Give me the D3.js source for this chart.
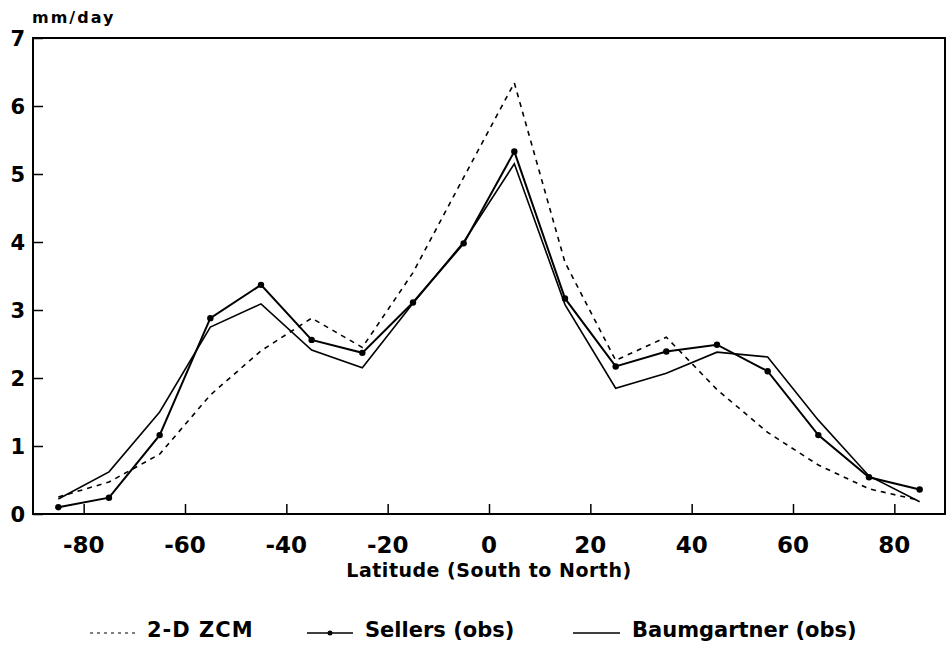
<!DOCTYPE html>
<html><head><meta charset="utf-8">
<script src="https://cdn.jsdelivr.net/npm/d3@7"></script>
<style>
body{margin:0;background:#fff;}
svg text{font-family:"DejaVu Sans",sans-serif;font-weight:bold;fill:#000;}
</style></head>
<body><svg id="c" width="947" height="653"></svg>
<script>
const latitudes = [-85,-75,-65,-55,-45,-35,-25,-15,-5,5,15,25,35,45,55,65,75,85];
const zcm2d      = [0.25,0.47,0.88,1.75,2.40,2.88,2.45,3.55,4.95,6.34,3.70,2.26,2.60,1.83,1.20,0.72,0.37,0.20];
const sellers    = [0.10,0.24,1.16,2.88,3.37,2.56,2.37,3.11,3.98,5.33,3.17,2.17,2.39,2.49,2.10,1.16,0.54,0.36];
const baumgartner= [0.22,0.62,1.50,2.75,3.09,2.41,2.15,3.10,4.00,5.15,3.08,1.85,2.07,2.38,2.31,1.38,0.56,0.18];
const xTicks = [-80,-60,-40,-20,0,20,40,60,80];
const yTicks = [0,1,2,3,4,5,6,7];
const yLabel = "mm/day";
const xLabel = "Latitude (South to North)";
const legendNames = ["2-D ZCM","Sellers (obs)","Baumgartner (obs)"];

const svg = d3.select("#c");
const L=33,R=945,T=38,B=514;
const x = d3.scaleLinear().domain([-90,90]).range([L,R]);
const y = d3.scaleLinear().domain([0,7]).range([B,T]);

// frame
svg.append("rect").attr("x",L).attr("y",T).attr("width",R-L).attr("height",B-T)
  .attr("fill","none").attr("stroke","#000").attr("stroke-width",2);

// x axis ticks (inward)
const xa = svg.append("g").attr("transform",`translate(0,${B})`)
  .call(d3.axisTop(x).tickValues(xTicks).tickSize(10).tickFormat(""));
xa.select(".domain").remove();
xa.selectAll("line").attr("stroke","#000").attr("stroke-width",1.5);
svg.append("g").selectAll("text").data(xTicks).join("text")
  .attr("x",d=>x(d)).attr("y",553).attr("text-anchor","middle")
  .attr("font-size",23).text(d=>String(d).replace("\u2212","-"));

// y axis ticks (inward)
const ya = svg.append("g").attr("transform",`translate(${L},0)`)
  .call(d3.axisRight(y).tickValues(yTicks).tickSize(10).tickFormat(""));
ya.select(".domain").remove();
ya.selectAll("line").attr("stroke","#000").attr("stroke-width",1.5);
svg.append("g").selectAll("text").data(yTicks).join("text")
  .attr("x",25).attr("y",d=>y(d)+7.5).attr("text-anchor","end")
  .attr("font-size",21).text(d=>d);

svg.append("text").attr("x",32).attr("y",23).attr("font-size",16)
  .attr("letter-spacing",2).text(yLabel);
svg.append("text").attr("x",(L+R)/2).attr("y",577).attr("text-anchor","middle")
  .attr("font-size",19).attr("letter-spacing",0.5).text(xLabel);

const line = d3.line().x((d,i)=>x(latitudes[i])).y(d=>y(d));
svg.append("path").datum(zcm2d).attr("d",line).attr("fill","none")
  .attr("stroke","#000").attr("stroke-width",1.6).attr("stroke-dasharray","5,5");
svg.append("path").datum(baumgartner).attr("d",line).attr("fill","none")
  .attr("stroke","#000").attr("stroke-width",1.6);
svg.append("path").datum(sellers).attr("d",line).attr("fill","none")
  .attr("stroke","#000").attr("stroke-width",2);
svg.append("g").selectAll("circle").data(sellers).join("circle")
  .attr("cx",(d,i)=>x(latitudes[i])).attr("cy",d=>y(d)).attr("r",3.2).attr("fill","#000");

// legend
const lg = svg.append("g");
const ly = 633;
lg.append("line").attr("x1",90).attr("x2",135).attr("y1",ly).attr("y2",ly)
  .attr("stroke","#000").attr("stroke-width",1.2).attr("stroke-dasharray","3,4");
lg.append("text").attr("x",147).attr("y",637).attr("font-size",21).attr("letter-spacing",1).text(legendNames[0]);
lg.append("line").attr("x1",307).attr("x2",353).attr("y1",ly).attr("y2",ly)
  .attr("stroke","#000").attr("stroke-width",1.6);
lg.append("circle").attr("cx",330).attr("cy",ly).attr("r",2.5).attr("fill","#000");
lg.append("text").attr("x",365).attr("y",637).attr("font-size",21).text(legendNames[1]);
lg.append("line").attr("x1",573).attr("x2",620).attr("y1",ly).attr("y2",ly)
  .attr("stroke","#000").attr("stroke-width",1.4);
lg.append("text").attr("x",632).attr("y",637).attr("font-size",21).text(legendNames[2]);
</script></body></html>
